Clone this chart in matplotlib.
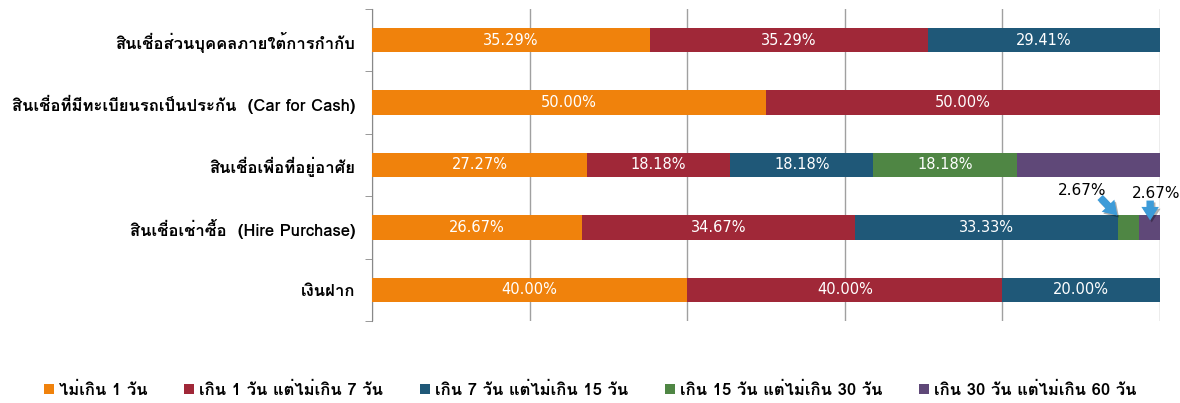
import matplotlib
matplotlib.use("Agg")
import matplotlib.pyplot as plt
from matplotlib import font_manager
from matplotlib.ft2font import FT2Font
import numpy as np

# ---- data ----
categories = [
    "สินเชื่อส่วนบุคคลภายใต้การกำกับ",
    "สินเชื่อที่มีทะเบียนรถเป็นประกัน  (Car for Cash)",
    "สินเชื่อเพื่อที่อยู่อาศัย",
    "สินเชื่อเช่าซื้อ  (Hire Purchase)",
    "เงินฝาก",
]
series_names = [
    "ไม่เกิน 1 วัน",
    "เกิน 1 วัน แต่ไม่เกิน 7 วัน",
    "เกิน 7 วัน แต่ไม่เกิน 15 วัน",
    "เกิน 15 วัน แต่ไม่เกิน 30 วัน",
    "เกิน 30 วัน แต่ไม่เกิน 60 วัน",
]
s1 = [35.29, 50.00, 27.27, 26.67, 40.00]
s2 = [35.29, 50.00, 18.18, 34.67, 40.00]
s3 = [29.41, 0.00, 18.18, 33.33, 20.00]
s4 = [0.00, 0.00, 18.18, 2.67, 0.00]
s5 = [0.00, 0.00, 18.18, 2.67, 0.00]
series = [s1, s2, s3, s4, s5]
colors = ["#F0820C", "#A02838", "#1F5878", "#4F8644", "#5F4878"]
# which cells get an inside label
show_inside = [
    [True, True, True, True, True],
    [True, True, True, True, True],
    [True, True, True, True, False],
    [True, True, True, False, False],
    [True, True, True, True, True],
]

# ---- font with Thai support ----
def find_thai_font():
    best = None
    for f in font_manager.fontManager.ttflist:
        try:
            ft = FT2Font(f.fname)
            if ft.get_char_index(0x0E01) != 0:
                score = 0
                if f.weight in ("bold", 700) or (isinstance(f.weight, int) and f.weight >= 600):
                    score += 1
                if best is None or score > best[0]:
                    best = (score, f.name)
        except Exception:
            pass
    return best[1] if best else "DejaVu Sans"

thai = find_thai_font()
plt.rcParams["font.family"] = [thai, "DejaVu Sans"]

fig = plt.figure(figsize=(11.8, 4.03), dpi=100)
ax = fig.add_axes([372/1180, 1 - 321/403, (1160-372)/1180, (321-9)/403])

n = len(categories)
y = np.arange(n)[::-1]  # top to bottom
left = np.zeros(n)
for si, vals in enumerate(series):
    vals = np.array(vals)
    ax.barh(y, vals, left=left, height=0.39, color=colors[si], label=series_names[si], zorder=3)
    for ci in range(n):
        if vals[ci] > 0 and show_inside[ci][si] and vals[ci] > 5:
            ax.text(left[ci] + vals[ci] / 2, y[ci], f"{vals[ci]:.2f}%", ha="center", va="center",
                    color="white", fontsize=10.5, zorder=4, family="DejaVu Sans")
    left += vals

# annotations for the small hire purchase segments
hp = 3
yc = y[hp]
style = "simple,head_width=0.9,head_length=0.7,tail_width=0.38"
arrow = dict(arrowstyle=style, color="#3D9BD8", lw=0, shrinkA=0, shrinkB=0, mutation_scale=14)
shadow = dict(arrowstyle=style, color="#00000050", lw=0, shrinkA=0, shrinkB=0, mutation_scale=14)
# arrow to green segment
ax.annotate("", xy=(94.8, yc + 0.16), xytext=(92.6, yc + 0.45), arrowprops=shadow, zorder=5,
            annotation_clip=False)
ax.annotate("", xy=(94.6, yc + 0.19), xytext=(92.4, yc + 0.48), arrowprops=arrow, zorder=6,
            annotation_clip=False)
ax.text(90.1, yc + 0.59, f"{s4[hp]:.2f}%", ha="center", va="center", fontsize=11,
        family="DejaVu Sans", zorder=7)
# arrow to purple segment
ax.annotate("", xy=(98.95, yc + 0.08), xytext=(98.95, yc + 0.40), arrowprops=shadow, zorder=5,
            annotation_clip=False)
ax.annotate("", xy=(98.75, yc + 0.11), xytext=(98.75, yc + 0.43), arrowprops=arrow, zorder=6,
            annotation_clip=False)
ax.text(99.5, yc + 0.54, f"{s5[hp]:.2f}%", ha="center", va="center", fontsize=11,
        family="DejaVu Sans", zorder=7, clip_on=False)

ax.set_xlim(0, 100)
ax.set_ylim(-0.5, n - 0.5)
ax.set_xticks(np.arange(0, 101, 20))
ax.set_xticklabels([])
ax.tick_params(axis="x", length=0)
ax.grid(axis="x", color="#A0A0A0", lw=1, zorder=0)
ax.set_yticks(y)
ax.set_yticklabels(categories, fontsize=12, fontweight="bold")
ax.tick_params(axis="y", which="major", length=0, pad=12)
ax.set_yticks(np.arange(-0.5, n, 1.0), minor=True)
ax.tick_params(axis="y", which="minor", length=5, color="#888888", direction="out")
for s in ["top", "right", "bottom"]:
    ax.spines[s].set_visible(False)
ax.spines["left"].set_color("#888888")

handles, labels = ax.get_legend_handles_labels()
leg = fig.legend(handles, labels, loc="center", bbox_to_anchor=(0.5, 1 - 390/403), ncol=5,
                 frameon=False, handlelength=0.6, handleheight=0.6, handletextpad=0.3,
                 columnspacing=2.2, prop=dict(weight="bold", size=12))

fig.savefig("out.png", dpi=100)
